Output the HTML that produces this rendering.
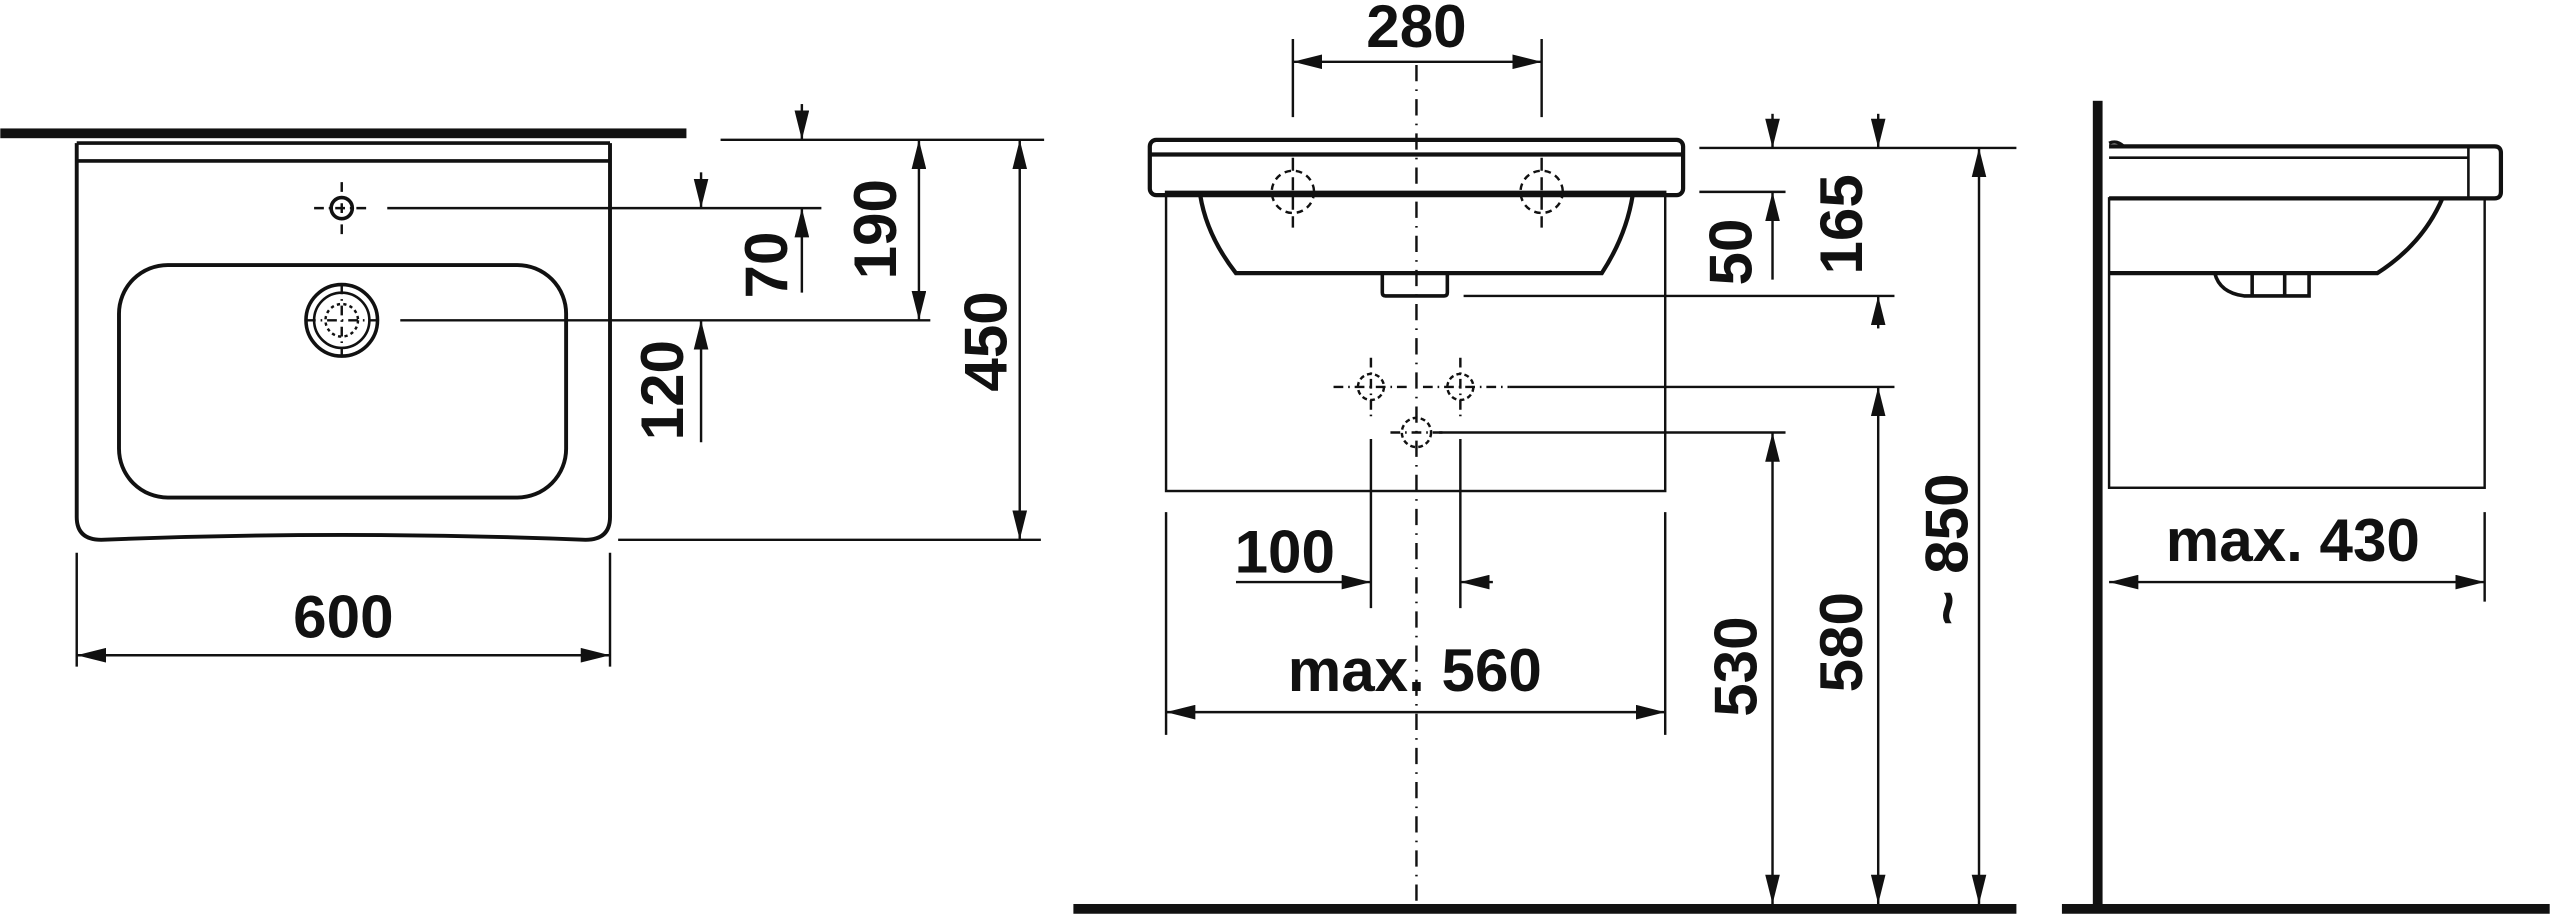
<!DOCTYPE html>
<html><head><meta charset="utf-8"><style>
html,body{margin:0;padding:0;background:#fff;}
svg{display:block;}
text{font-family:"Liberation Sans",sans-serif;font-weight:bold;font-size:37px;fill:#111;}
</style></head><body>
<svg width="2550" height="917" viewBox="0 0 1568 564" xmlns="http://www.w3.org/2000/svg">
<defs>
<marker id="a" viewBox="0 0 18 9" refX="18" refY="4.5" markerWidth="18" markerHeight="9" markerUnits="userSpaceOnUse" orient="auto-start-reverse"><path d="M0,0 L18,4.5 L0,9 z" fill="#111"/></marker>
</defs>
<g stroke="#111" fill="none" stroke-width="1.5">
<!-- LEFT VIEW -->
<rect x="0" y="79" width="422" height="6" fill="#111" stroke="none"/>
<path d="M47,88 V318 Q47,332 62,332 Q210,326 360,332 Q375,332 375,318 V88" stroke-width="2.4"/>
<line x1="47" y1="99" x2="375" y2="99" stroke-width="2.2"/>
<line x1="47" y1="88" x2="375" y2="88" stroke-width="2.2"/>
<rect x="73" y="163" width="275" height="143" rx="30" stroke-width="2.4"/>
<circle cx="210" cy="128" r="6.5" stroke-width="2.2"/>
<path d="M193,128 H227 M210,112 V144" stroke-dasharray="6,3,1,3"/>
<circle cx="210" cy="197" r="22" stroke-width="2.2"/>
<circle cx="210" cy="197" r="17" stroke-width="1.6"/>
<circle cx="210" cy="197" r="10" stroke-dasharray="2,2"/>
<path d="M188,197 H232 M210,175 V219" stroke-dasharray="6,3,1,3"/>
<path d="M443,86 H642 M238,128 H505 M246,197 H572 M380,332 H640"/>
<path d="M47,340 V410 M375,340 V410"/>
<line x1="493" y1="64" x2="493" y2="86" marker-end="url(#a)"/>
<line x1="493" y1="180" x2="493" y2="128" marker-end="url(#a)"/>
<line x1="565" y1="86" x2="565" y2="197" marker-start="url(#a)" marker-end="url(#a)"/>
<line x1="627" y1="86" x2="627" y2="332" marker-start="url(#a)" marker-end="url(#a)"/>
<line x1="431" y1="106" x2="431" y2="128" marker-end="url(#a)"/>
<line x1="431" y1="272" x2="431" y2="197" marker-end="url(#a)"/>
<line x1="47" y1="403" x2="375" y2="403" marker-start="url(#a)" marker-end="url(#a)"/>

<!-- MIDDLE VIEW -->
<rect x="660" y="556" width="580" height="6" fill="#111" stroke="none"/>
<line x1="871" y1="40" x2="871" y2="556" stroke-dasharray="10,5,1,5"/>
<rect x="707" y="86" width="328" height="34" rx="4" stroke-width="2.6"/>
<line x1="707" y1="95" x2="1035" y2="95" stroke-width="2.6"/>
<path d="M738,120 Q742,145 760,168 H985 Q1000,145 1004,120" stroke-width="2.6"/>
<path d="M850,168 V180 Q850,182 852,182 H888 Q890,182 890,180 V168" stroke-width="2.2"/>
<rect x="717" y="118" width="307" height="184"/>
<circle cx="795" cy="118" r="13" stroke-dasharray="4,3"/>
<circle cx="948" cy="118" r="13" stroke-dasharray="4,3"/>
<path d="M795,97 V140 M948,97 V140" stroke-dasharray="8,4"/>
<path d="M795,72 V24 M948,72 V24"/>
<line x1="795" y1="38" x2="948" y2="38" marker-start="url(#a)" marker-end="url(#a)"/>
<circle cx="843" cy="238" r="8" stroke-dasharray="3,2"/>
<circle cx="898" cy="238" r="8" stroke-dasharray="3,2"/>
<circle cx="871" cy="266" r="9" stroke-dasharray="3,2"/>
<path d="M820,238 H866 M875,238 H928 M843,220 V256 M898,220 V256 M855,266 H887" stroke-dasharray="6,3,1,3"/>
<path d="M1045,91 H1240 M1045,118 H1098 M900,182 H1165 M928,238 H1165 M885,266 H1098"/>
<line x1="1090" y1="70" x2="1090" y2="91" marker-end="url(#a)"/>
<line x1="1090" y1="172" x2="1090" y2="118" marker-end="url(#a)"/>
<line x1="1155" y1="70" x2="1155" y2="91" marker-end="url(#a)"/>
<line x1="1155" y1="202" x2="1155" y2="182" marker-end="url(#a)"/>
<line x1="1090" y1="266" x2="1090" y2="556" marker-start="url(#a)" marker-end="url(#a)"/>
<line x1="1155" y1="238" x2="1155" y2="556" marker-start="url(#a)" marker-end="url(#a)"/>
<line x1="1217" y1="91" x2="1217" y2="556" marker-start="url(#a)" marker-end="url(#a)"/>
<path d="M843,270 V374 M898,270 V374"/>
<line x1="760" y1="358" x2="843" y2="358" marker-end="url(#a)"/>
<line x1="918" y1="358" x2="898" y2="358" marker-end="url(#a)"/>
<path d="M717,315 V452 M1024,315 V452"/>
<line x1="717" y1="438" x2="1024" y2="438" marker-start="url(#a)" marker-end="url(#a)"/>

<!-- RIGHT VIEW -->
<rect x="1287" y="62" width="6" height="497" fill="#111" stroke="none"/>
<rect x="1268" y="556" width="300" height="6" fill="#111" stroke="none"/>
<path d="M1297,90 H1534 Q1538,90 1538,94 V118 Q1538,122 1534,122 H1297" stroke-width="2.6"/>
<line x1="1297" y1="97" x2="1518" y2="97" stroke-width="1.6"/>
<path d="M1518,90 V122" stroke-width="1.6"/>
<path d="M1502,122 Q1490,150 1462,168 H1297" stroke-width="2.6"/>
<path d="M1362,168 Q1365,180 1380,182 H1420 V168 M1385,168 V182 M1405,168 V182" stroke-width="2.2"/>
<rect x="1297" y="122" width="231" height="178"/>
<path d="M1297,88 Q1302,86 1306,90" stroke-width="2"/>
<path d="M1528,315 V370"/>
<line x1="1297" y1="358" x2="1528" y2="358" marker-start="url(#a)" marker-end="url(#a)"/>
</g>
<g>
<text x="211" y="392" text-anchor="middle">600</text>
<text transform="translate(484,163) rotate(-90)" text-anchor="middle">70</text>
<text transform="translate(551,141) rotate(-90)" text-anchor="middle">190</text>
<text transform="translate(619,210) rotate(-90)" text-anchor="middle">450</text>
<text transform="translate(420,240) rotate(-90)" text-anchor="middle">120</text>
<text x="871" y="29" text-anchor="middle">280</text>
<text transform="translate(1077,155) rotate(-90)" text-anchor="middle">50</text>
<text transform="translate(1145,138) rotate(-90)" text-anchor="middle">165</text>
<text transform="translate(1080,410) rotate(-90)" text-anchor="middle">530</text>
<text transform="translate(1145,395) rotate(-90)" text-anchor="middle">580</text>
<text transform="translate(1210,338) rotate(-90)" text-anchor="middle">~ 850</text>
<text x="790" y="352" text-anchor="middle">100</text>
<text x="870" y="425" text-anchor="middle">max. 560</text>
<text x="1410" y="345" text-anchor="middle">max. 430</text>
</g>
</svg>
</body></html>
